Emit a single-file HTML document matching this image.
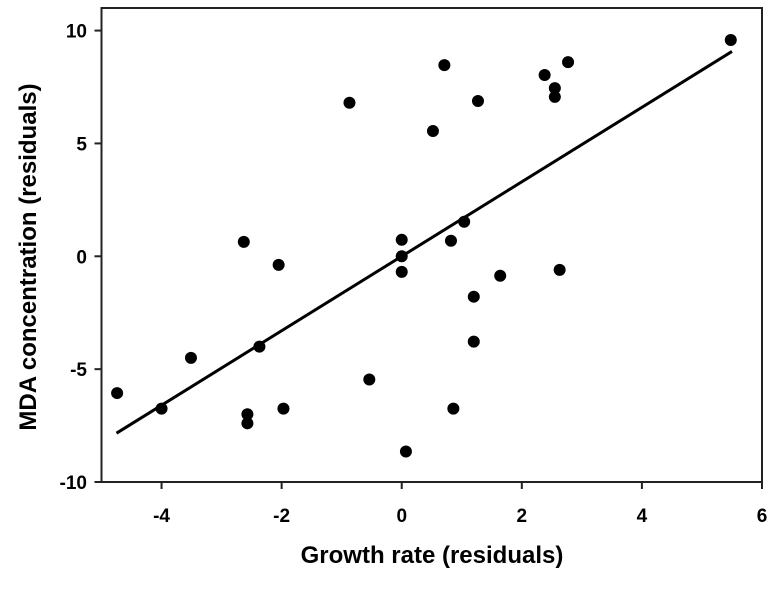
<!DOCTYPE html>
<html><head><meta charset="utf-8"><style>
body{margin:0;background:#fff;width:775px;height:584px;overflow:hidden}
svg{font-family:"Liberation Sans",Arial,sans-serif;font-weight:bold}
</style></head><body>
<svg id="chart" width="775" height="584">
<rect x="101.5" y="8" width="660.5" height="474" fill="none" stroke="#222" stroke-width="2"/>
<text x="432" y="563" text-anchor="middle" font-size="24">Growth rate (residuals)</text>
<text transform="translate(36,257) rotate(-90)" text-anchor="middle" font-size="24">MDA concentration (residuals)</text>
</svg>
<script>
const xTicks=[-4,-2,0,2,4,6];
const yTicks=[-10,-5,0,5,10];
const xVals=[-4.74,-4.0,-3.51,-2.63,-2.57,-2.57,-2.37,-2.05,-1.97,-0.87,-0.54,0,0,0,0.07,0.52,0.71,0.82,0.86,1.04,1.2,1.2,1.27,1.64,2.38,2.55,2.55,2.77,2.63,5.48];
const yVals=[-6.06,-6.75,-4.5,0.64,-7.0,-7.4,-4.0,-0.38,-6.75,6.8,-5.46,0.73,0,-0.69,-8.65,5.55,8.47,0.69,-6.75,1.53,-1.79,-3.78,6.88,-0.86,8.03,7.45,7.06,8.6,-0.6,9.58];
const fitX=[-4.75,5.5];
const slope=1.65, intercept=0;
const svg=document.getElementById('chart');
const NS='http://www.w3.org/2000/svg';
const sx=v=>101.5+(v+5)*(660.5/11);
const sy=v=>482-(v+10)*(474/21);
function mk(t,a){const e=document.createElementNS(NS,t);for(const k in a)e.setAttribute(k,a[k]);svg.appendChild(e);return e;}
xTicks.forEach(t=>{
 const l=mk('line',{x1:sx(t),x2:sx(t),y1:482,y2:489,stroke:'#222','stroke-width':2});
 
 
 const tx=mk('text',{x:sx(t),y:522,'text-anchor':'middle','font-size':19});
 tx.textContent=t;
 
 
});
yTicks.forEach(t=>{
 const l=mk('line',{x1:94.5,x2:101.5,y1:sy(t),y2:sy(t),stroke:'#222','stroke-width':2});
 
 
 const tx=mk('text',{x:87,y:sy(t)+7,'text-anchor':'end','font-size':19});
 tx.textContent=t;
 
 
});
const fl=mk('line',{x1:sx(fitX[0]),y1:sy(slope*fitX[0]+intercept),x2:sx(fitX[1]),y2:sy(slope*fitX[1]+intercept),stroke:'#000','stroke-width':3});


xVals.forEach((x,i)=>{
 const c=mk('circle',{cx:sx(x),cy:sy(yVals[i]),r:6,fill:'#000'});
 
 
});
</script>
</body></html>
